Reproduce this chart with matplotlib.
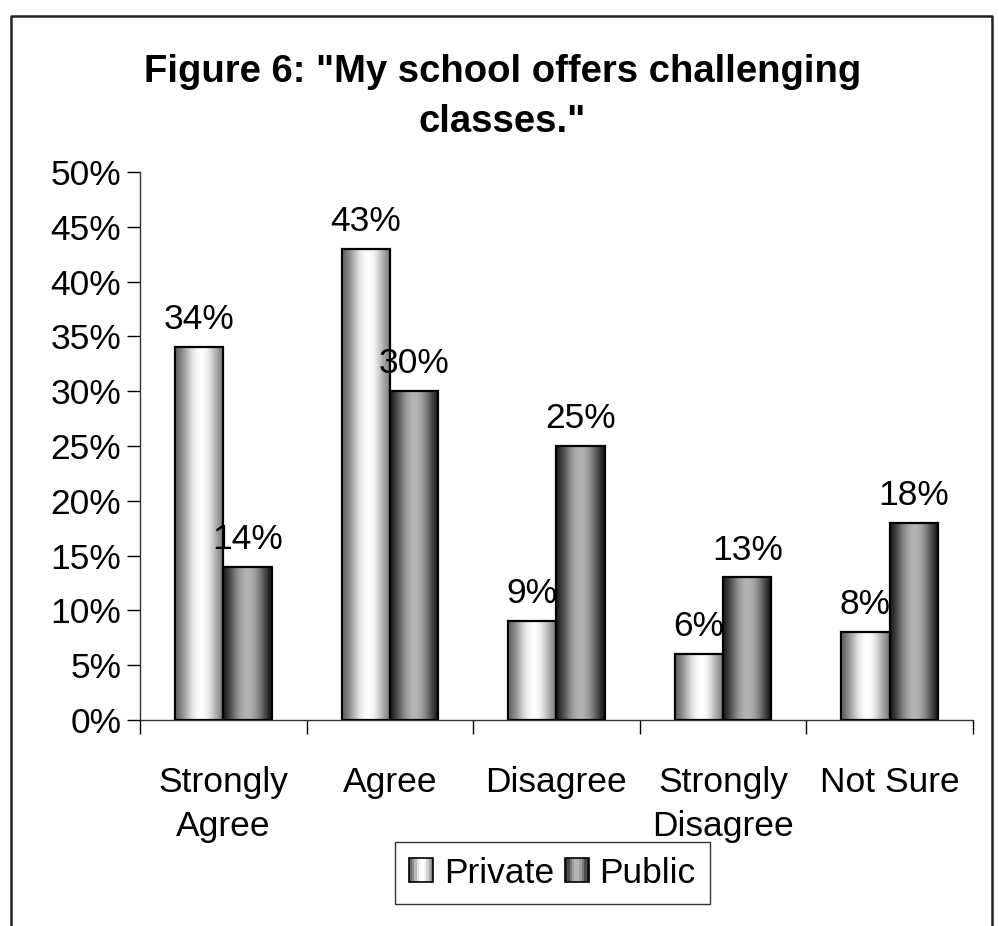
import matplotlib.pyplot as plt
import numpy as np
from matplotlib.patches import Rectangle
from matplotlib.legend_handler import HandlerBase
from matplotlib.lines import Line2D

plt.rcParams['font.family'] = ['Liberation Sans', 'DejaVu Sans']

# Survey responses (percent)
categories = ["Strongly\nAgree", "Agree", "Disagree", "Strongly\nDisagree", "Not Sure"]
private = [34, 43, 9, 6, 8]
public = [14, 30, 25, 13, 18]
series_names = ["Private", "Public"]

# horizontal shading profiles for the cylinder-like bars
shade_private = np.array([0.42, 0.55, 0.72, 0.88, 0.97, 1.0, 0.95, 0.82, 0.66, 0.52])
shade_public = np.array([0.15, 0.30, 0.48, 0.62, 0.70, 0.70, 0.62, 0.48, 0.30, 0.12])
shades = [shade_private, shade_public]


def shade_bar(ax, bar, profile):
    img = np.tile(profile, (2, 1))
    x0, y0 = bar.get_x(), bar.get_y()
    w, h = bar.get_width(), bar.get_height()
    ax.imshow(img, cmap='gray', vmin=0, vmax=1, aspect='auto',
              extent=(x0, x0 + w, y0, y0 + h), interpolation='bilinear',
              zorder=2)


class ShadedHandler(HandlerBase):
    def __init__(self, profile):
        super().__init__()
        self.profile = profile

    def create_artists(self, legend, orig_handle, xdescent, ydescent,
                       width, height, fontsize, trans):
        side = height * 0.95
        x0 = xdescent
        y0 = -ydescent + (height - side) / 2
        w = width
        n = len(self.profile)
        arts = []
        for i, v in enumerate(self.profile):
            arts.append(Rectangle((x0 + i * w / n, y0), w / n + 0.01, side,
                                  facecolor=str(v), edgecolor='none',
                                  transform=trans))
        arts.append(Rectangle((x0, y0), w, side, facecolor='none',
                              edgecolor='black', lw=1.2, transform=trans))
        return arts


fig = plt.figure(figsize=(9.99, 9.26), dpi=100)
ax = fig.add_axes([0.1401, 0.2225, 0.8338, 0.5918])

x = np.arange(len(categories))
bw = 0.29
bars_priv = ax.bar(x - bw / 2, private, bw, facecolor='none', edgecolor='black',
                   lw=1.6, zorder=3)
bars_pub = ax.bar(x + bw / 2, public, bw, facecolor='none', edgecolor='black',
                  lw=1.6, zorder=3)

for bars, prof in zip([bars_priv, bars_pub], shades):
    for b in bars:
        shade_bar(ax, b, prof)

for bars, vals in zip([bars_priv, bars_pub], [private, public]):
    for b, v in zip(bars, vals):
        ax.text(b.get_x() + b.get_width() / 2, v + 1.0, f"{v}%",
                ha='center', va='bottom', fontsize=25.5)

ax.set_xlim(-0.5, len(categories) - 0.5)
ax.set_ylim(0, 50)
ax.set_yticks(np.arange(0, 51, 5))
ax.set_yticklabels([f"{v}%" for v in range(0, 51, 5)], fontsize=25.5)
ax.set_xticks(x)
ax.set_xticklabels(categories, fontsize=25.5, linespacing=1.45)
ax.set_xticks(np.arange(-0.5, len(categories), 1), minor=True)
ax.tick_params(axis='x', which='major', length=0, pad=33)
ax.tick_params(axis='x', which='minor', length=10, width=1, direction='out')
ax.tick_params(axis='y', length=9.5, width=1, direction='out', pad=4)
for s in ['top', 'right']:
    ax.spines[s].set_visible(False)
for s in ['left', 'bottom']:
    ax.spines[s].set_color('#333333')
    ax.spines[s].set_linewidth(1)

fig.text(0.503, 0.9417, 'Figure 6: "My school offers challenging\nclasses."',
         ha='center', va='top', fontsize=27.5, fontweight='bold',
         linespacing=1.5)

handles = [Line2D([], []), Line2D([], [])]
leg = fig.legend(handles, series_names, loc='center',
                 bbox_to_anchor=(0.5531, 0.0572), ncol=2, fontsize=25.5,
                 frameon=True, fancybox=False, edgecolor='black',
                 handler_map={handles[0]: ShadedHandler(shade_private),
                              handles[1]: ShadedHandler(shade_public)},
                 handlelength=0.68, handleheight=0.72, handletextpad=0.3,
                 columnspacing=0.3, borderpad=0.4, borderaxespad=0)
leg.get_frame().set_linewidth(1)

# outer chart border (open at the bottom)
fig.add_artist(Line2D([11 / 999, 11 / 999, 992 / 999, 992 / 999],
                      [0, 910 / 926, 910 / 926, 0], transform=fig.transFigure,
                      color='#222222', lw=1.8))

fig.savefig('out.png', dpi=100)
